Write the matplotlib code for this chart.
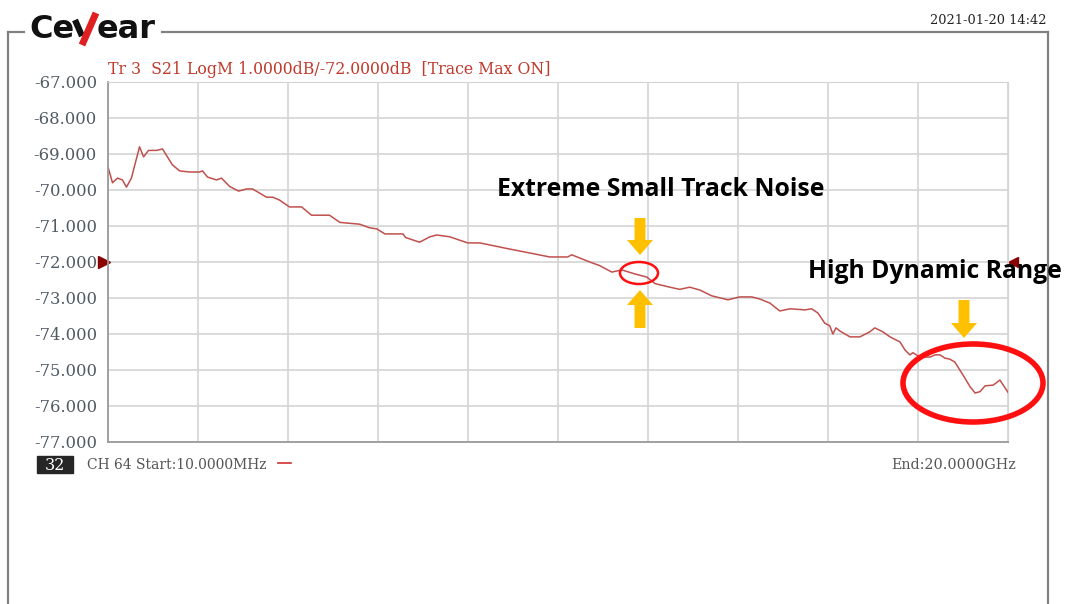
import numpy as np
import matplotlib
matplotlib.use("Agg")
import matplotlib.pyplot as plt
from matplotlib.patches import Ellipse, FancyArrow, Rectangle
import matplotlib.transforms as mtransforms

# trace: frequency (GHz) and S21 (dB)
freq_ghz = [0.01, 0.11, 0.22, 0.33, 0.42, 0.53, 0.71, 0.80, 0.91, 1.09, 1.22, 1.44,
            1.60, 1.82, 2.04, 2.11, 2.22, 2.42, 2.53, 2.71, 2.91, 3.09, 3.22, 3.53,
            3.67, 3.82, 4.04, 4.31, 4.53, 4.93, 5.16, 5.60, 5.82, 5.98, 6.16, 6.56,
            6.62, 6.93, 7.16, 7.31, 7.60, 8.00, 8.27, 8.93, 9.38, 9.82, 10.22, 10.31,
            10.71, 10.93, 11.20, 11.42, 11.71, 11.98, 12.16, 12.49, 12.71, 12.93, 13.16,
            13.42, 13.78, 14.04, 14.31, 14.49, 14.71, 14.93, 15.16, 15.49, 15.64, 15.78,
            15.93, 16.04, 16.11, 16.18, 16.27, 16.49, 16.71, 16.93, 17.04, 17.22, 17.38,
            17.60, 17.71, 17.82, 17.89, 18.04, 18.27, 18.38, 18.49, 18.60, 18.71, 18.82,
            18.93, 19.04, 19.16, 19.27, 19.38, 19.49, 19.67, 19.82, 20.00]
s21_db = [-69.36, -69.80, -69.67, -69.72, -69.92, -69.67, -68.80, -69.08, -68.90, -68.90,
          -68.86, -69.30, -69.47, -69.50, -69.50, -69.47, -69.64, -69.72, -69.67, -69.90,
          -70.03, -69.97, -69.97, -70.20, -70.20, -70.28, -70.47, -70.47, -70.70, -70.70,
          -70.90, -70.95, -71.05, -71.08, -71.22, -71.22, -71.32, -71.45, -71.30, -71.25,
          -71.30, -71.47, -71.47, -71.64, -71.75, -71.86, -71.86, -71.80, -72.00, -72.10,
          -72.28, -72.22, -72.33, -72.42, -72.60, -72.70, -72.76, -72.70, -72.78, -72.94,
          -73.05, -72.97, -72.97, -73.03, -73.14, -73.36, -73.30, -73.33, -73.30, -73.42,
          -73.70, -73.77, -74.00, -73.83, -73.92, -74.08, -74.08, -73.94, -73.83, -73.94,
          -74.08, -74.22, -74.44, -74.58, -74.52, -74.64, -74.64, -74.58, -74.58, -74.67,
          -74.70, -74.78, -75.00, -75.22, -75.47, -75.64, -75.60, -75.44, -75.42, -75.28,
          -75.62]

y_ticks = [-67, -68, -69, -70, -71, -72, -73, -74, -75, -76, -77]
ref_level = -72.0
start_ghz, stop_ghz = 0.01, 20.0

W, H = 1070, 604
fig = plt.figure(figsize=(W / 100, H / 100), dpi=100)
fig.patch.set_facecolor("white")

mono = "DejaVu Serif"

ax = fig.add_axes([108 / W, 1 - 442 / H, 900 / W, 360 / H])
ax.plot(freq_ghz, s21_db, color="#c0504d", lw=1.1)
ax.set_xlim(start_ghz, stop_ghz)
ax.set_ylim(-77, -67)
ax.set_xticks(np.linspace(start_ghz, stop_ghz, 11))
ax.set_yticks(y_ticks)
ax.set_yticklabels([f"{v:.3f}" for v in y_ticks], family=mono,
                   fontsize=11.8, color="#4f5a63")
ax.set_xticklabels([])
ax.tick_params(length=0, pad=8)
ax.grid(True, color="#d4d4d4", lw=1.2)
for side in ["top", "right"]:
    ax.spines[side].set_color("#d4d4d4")
for side in ["left", "bottom"]:
    ax.spines[side].set_color("#9a9a9a")
    ax.spines[side].set_linewidth(1.3)

# reference level markers
blend = mtransforms.blended_transform_factory(ax.transAxes, ax.transData)
ax.plot([-0.005], [ref_level], marker=">", ms=9, color="#8b0000", transform=blend, clip_on=False)
ax.plot([1.006], [ref_level], marker="<", ms=7, color="#8b0000", transform=blend, clip_on=False)

ax.text(0, 1.012, "Tr 3  S21 LogM 1.0000dB/-72.0000dB  [Trace Max ON]",
        transform=ax.transAxes, family=mono, fontsize=11.3,
        color="#c0392b", va="bottom", ha="left")

# overlay in pixel coords for the frame and callouts
ov = fig.add_axes([0, 0, 1, 1], zorder=5)
ov.set_xlim(0, W)
ov.set_ylim(H, 0)
ov.axis("off")
ov.patch.set_alpha(0)

fc = "#808080"
ov.plot([8, 8], [32, H], color=fc, lw=1.6)
ov.plot([1048, 1048], [32, H], color=fc, lw=1.6)
ov.plot([8, 24], [32, 32], color=fc, lw=1.6)
ov.plot([162, 1048], [32, 32], color=fc, lw=1.6)

# logo
logo_font = dict(family="DejaVu Sans", fontweight="bold", fontsize=23,
                 color="#111111", va="baseline")
ov.text(29, 38, "Ce", ha="left", **logo_font)
ov.plot([75, 82], [20, 36], color="#111111", lw=4.5, solid_capstyle="butt")
ov.plot([82, 96], [45, 13], color="#e02020", lw=5, solid_capstyle="butt")
ov.text(97, 38, "ear", ha="left", **logo_font)

ov.text(1047, 20, "2021-01-20 14:42", family=mono, fontsize=9.3,
        color="#222222", ha="right", va="center")

ov.add_patch(Rectangle((37, 456), 36, 17, color="#262626"))
ov.text(55, 465, "32", family=mono, fontsize=11.5, color="white",
        ha="center", va="center")
ov.text(87, 465, "CH 64 Start:10.0000MHz", family=mono, fontsize=10,
        color="#555555", ha="left", va="center")
ov.plot([278, 291], [463, 463], color="#d03030", lw=1.2)
ov.text(1016, 465, "End:20.0000GHz", family=mono, fontsize=10.3,
        color="#555555", ha="right", va="center")

# callouts
ov.text(497, 190, "Extreme Small Track Noise", family="Open Sans", fontweight="bold",
        fontsize=17.8, color="black", ha="left", va="center")
ov.text(808, 272, "High Dynamic Range", family="Open Sans", fontweight="bold",
        fontsize=17.8, color="black", ha="left", va="center")

arrow_c = "#ffc000"
ov.add_patch(FancyArrow(640, 218, 0, 37, width=11, head_width=26, head_length=15,
                        length_includes_head=True, color=arrow_c, lw=0))
ov.add_patch(FancyArrow(640, 328, 0, -38, width=11, head_width=26, head_length=15,
                        length_includes_head=True, color=arrow_c, lw=0))
ov.add_patch(FancyArrow(964, 300, 0, 38, width=11, head_width=26, head_length=15,
                        length_includes_head=True, color=arrow_c, lw=0))

ov.add_patch(Ellipse((639, 273), 38, 22, fill=False, ec="#ff1010", lw=1.8))
ov.add_patch(Ellipse((973, 383), 140, 78, fill=False, ec="#ff1010", lw=4))

fig.savefig("out.png", dpi=100)
